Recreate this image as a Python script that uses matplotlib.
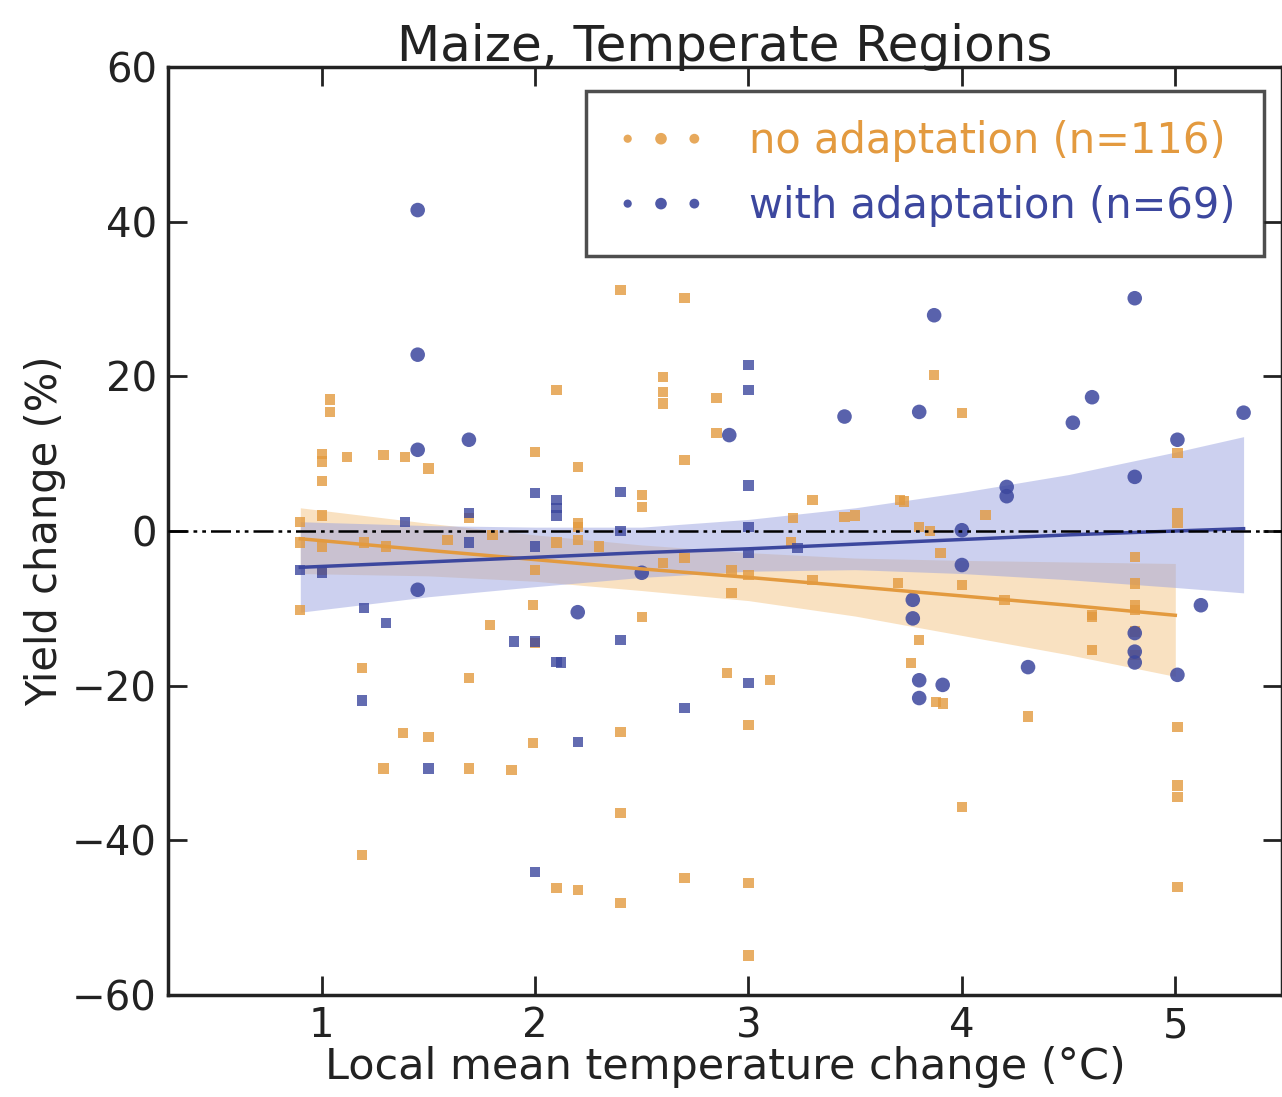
import matplotlib
matplotlib.use("Agg")
import matplotlib.pyplot as plt

# --- data ---
# no adaptation (orange squares)
no_adapt_x = [0.9, 0.9, 1.0, 1.0, 1.0, 1.0, 1.0, 1.0, 1.04, 1.04, 1.12, 1.29, 1.39, 1.5,
              2.0, 2.1, 2.2, 1.99, 1.79, 1.19, 1.69, 2.0, 1.38, 1.5, 1.29, 1.69, 1.89,
              1.99, 1.19, 2.1, 2.2, 2.0, 2.2, 2.1, 1.3, 2.4, 2.7, 2.6, 2.6, 2.6, 2.85,
              2.85, 2.7, 2.5, 2.5, 3.3, 3.71, 3.21, 3.45, 3.8, 2.6, 2.92, 2.92, 3.0,
              3.3, 3.7, 2.5, 2.2, 2.2, 3.87, 2.9, 3.1, 3.0, 2.4, 2.4, 2.7, 3.0, 2.4,
              3.0, 3.8, 3.76, 3.88, 4.0, 5.01, 5.01, 5.01, 3.73, 4.11, 3.9, 4.0, 4.2,
              4.61, 4.81, 4.81, 4.81, 4.81, 4.61, 4.61, 3.91, 4.31, 5.01, 5.01, 5.01,
              4.0, 5.01, 1.59, 1.69, 0.9, 1.2, 1.8, 2.3, 2.7, 3.2, 3.5, 4.81, 4.81, 3.85]
no_adapt_y = [1.2, -10.2, 10.0, 9.0, 6.5, 2.0, -2.0, -5.0, 17.0, 15.4, 9.6, 9.8, 9.6, 8.1,
              10.2, 18.2, 8.3, -9.6, -12.2, -17.7, -19.0, -5.0, -26.1, -26.6, -30.7,
              -30.7, -30.9, -27.4, -41.9, -46.2, -46.4, -14.5, 0.5, -1.5, -2.0, 31.2,
              30.1, 19.9, 18.0, 16.5, 17.2, 12.7, 9.2, 4.7, 3.1, 4.0, 4.0, 1.7, 1.8,
              0.5, -4.1, -5.0, -8.0, -5.7, -6.3, -6.7, -11.1, 1.0, -1.2, 20.2, -18.4,
              -19.3, -25.1, -26.0, -36.5, -44.9, -45.5, -48.1, -54.9, -14.1, -17.1,
              -22.1, 15.3, 10.1, 2.3, 1.0, 3.8, 2.1, -2.8, -7.0, -8.9, -10.9, -3.4,
              -6.8, -10.2, -9.6, -11.1, -15.4, -22.3, -24.0, -25.3, -32.9, -34.4, -35.7,
              -46.0, -1.2, 1.7, -1.5, -1.5, -0.5, -2.0, -3.5, -1.5, 2.0, -13.0, -16.0, 0.0]

# with adaptation (blue), two marker groups
with_adapt_circ_x = [1.45, 1.45, 1.69, 1.45, 1.45, 2.2, 2.91, 3.45, 3.8, 3.87, 4.81, 4.61,
                     4.52, 5.32, 5.01, 4.81, 4.0, 4.0, 3.77, 3.77, 5.12, 4.81, 4.81, 4.81,
                     5.01, 4.31, 3.8, 3.8, 3.91, 4.21, 4.21, 2.5]
with_adapt_circ_y = [41.5, 22.8, 11.8, 10.5, -7.6, -10.5, 12.4, 14.8, 15.4, 27.9, 30.1, 17.3,
                     14.0, 15.3, 11.8, 7.0, 0.1, -4.4, -8.9, -11.3, -9.6, -13.2, -15.6, -17.0,
                     -18.6, -17.6, -19.3, -21.6, -19.9, 5.7, 4.5, -5.4]
with_adapt_sq_x = [2.0, 2.1, 2.1, 2.1, 1.39, 1.69, 1.69, 0.9, 1.0, 1.2, 1.3, 1.9, 2.0, 2.1,
                   2.0, 1.19, 1.5, 2.2, 2.0, 3.0, 3.0, 2.4, 3.0, 3.0, 3.0, 2.4, 2.12, 3.0,
                   2.7, 2.4, 3.23]
with_adapt_sq_y = [4.9, 4.0, 3.0, 2.0, 1.2, 2.3, -1.5, -5.0, -5.4, -10.0, -11.9, -14.3, -14.3,
                   -16.9, -2.0, -21.9, -30.7, -27.3, -44.1, 21.5, 18.2, 5.0, 5.9, 0.5, -2.8,
                   -14.1, -17.0, -19.7, -22.9, 0.0, -2.2]

# regression lines and confidence bands
no_adapt_fit_x = [0.9, 1.5, 2.0, 2.5, 3.0, 3.5, 4.0, 4.5, 5.0]
no_adapt_fit_y = [-1.0, -2.5, -3.7, -4.9, -6.0, -7.2, -8.4, -9.6, -10.9]
no_adapt_lo = [-5.5, -5.8, -6.5, -7.7, -9.0, -11.0, -13.5, -16.0, -18.8]
no_adapt_hi = [3.0, 1.0, -0.5, -1.8, -2.8, -3.5, -3.8, -4.0, -4.2]

with_adapt_fit_x = [0.9, 1.5, 2.0, 2.5, 3.0, 3.5, 4.0, 4.5, 5.0, 5.32]
with_adapt_fit_y = [-4.7, -4.0, -3.4, -2.8, -2.3, -1.7, -1.1, -0.5, 0.0, 0.3]
with_adapt_lo = [-10.5, -8.5, -7.2, -6.0, -5.2, -5.0, -5.5, -6.3, -7.3, -8.0]
with_adapt_hi = [1.2, 0.7, 0.5, 0.5, 1.5, 3.0, 5.0, 7.3, 10.2, 12.2]

orange = "#E39A3F"
blue = "#3C479E"
ink = "#222222"

fig = plt.figure(figsize=(12.82, 10.97), dpi=100)
ax = fig.add_axes([168 / 1282, 1 - 995 / 1097, (1282 - 168) / 1282, (995 - 67) / 1097])

# bands
ax.fill_between(no_adapt_fit_x, no_adapt_lo, no_adapt_hi, color="#F5C98E", alpha=0.55,
                lw=0, zorder=1)
ax.fill_between(with_adapt_fit_x, with_adapt_lo, with_adapt_hi, color="#9AA3E0", alpha=0.5,
                lw=0, zorder=1)

# scatter
ax.scatter(no_adapt_x, no_adapt_y, marker="s", s=55, color=orange, alpha=0.8,
           edgecolors="none", zorder=3)
ax.scatter(with_adapt_sq_x, with_adapt_sq_y, marker="s", s=55, color=blue, alpha=0.8,
           edgecolors="none", zorder=3)
ax.scatter(with_adapt_circ_x, with_adapt_circ_y, marker="o", s=110, color=blue, alpha=0.85,
           edgecolors="none", zorder=3)

# fit lines
ax.plot(no_adapt_fit_x, no_adapt_fit_y, color=orange, lw=2.5, zorder=4)
ax.plot(with_adapt_fit_x, with_adapt_fit_y, color=blue, lw=2.5, zorder=4)

# zero reference line
ax.axhline(0, color="black", lw=1.8, dashes=(8, 2, 1.5, 2, 1.5, 2), zorder=5)

# legend proxies
h1 = ax.scatter([], [], marker="o", s=60, color=orange, alpha=0.85, edgecolors="none")
h2 = ax.scatter([], [], marker="o", s=60, color=blue, alpha=0.9, edgecolors="none")
leg = ax.legend([h1, h2], ["no adaptation (n=116)", "with adaptation (n=69)"],
                loc="upper right", bbox_to_anchor=(0.984, 0.974), scatterpoints=3,
                scatteryoffsets=[0.5], fontsize=30, frameon=True, fancybox=False,
                handlelength=2.2, handletextpad=1.0, borderpad=0.7, labelspacing=0.55,
                borderaxespad=0)
for h in leg.legend_handles:
    h.set_sizes([35, 70, 50])
leg.get_frame().set_edgecolor(ink)
leg.get_frame().set_linewidth(2.5)
for txt, c in zip(leg.get_texts(), [orange, blue]):
    txt.set_color(c)

ax.set_xlim(0.28, 5.5)
ax.set_ylim(-60, 60)
ax.set_xticks([1, 2, 3, 4, 5])
ax.set_yticks([-60, -40, -20, 0, 20, 40, 60])
ax.set_yticklabels(["\u221260", "\u221240", "\u221220", "0", "20", "40", "60"])
ax.tick_params(direction="in", length=14, width=2, top=True, right=True,
               labelsize=29, pad=8, colors=ink)
for sp in ax.spines.values():
    sp.set_linewidth(2.5)
    sp.set_color(ink)

ax.set_title("Maize, Temperate Regions", fontsize=36, color=ink, pad=4)
ax.set_xlabel("Local mean temperature change (\u00b0C)", fontsize=31, color=ink,
              labelpad=0)
ax.set_ylabel("Yield change (%)", fontsize=30, color=ink, labelpad=4)

fig.savefig("out.png", dpi=100)
